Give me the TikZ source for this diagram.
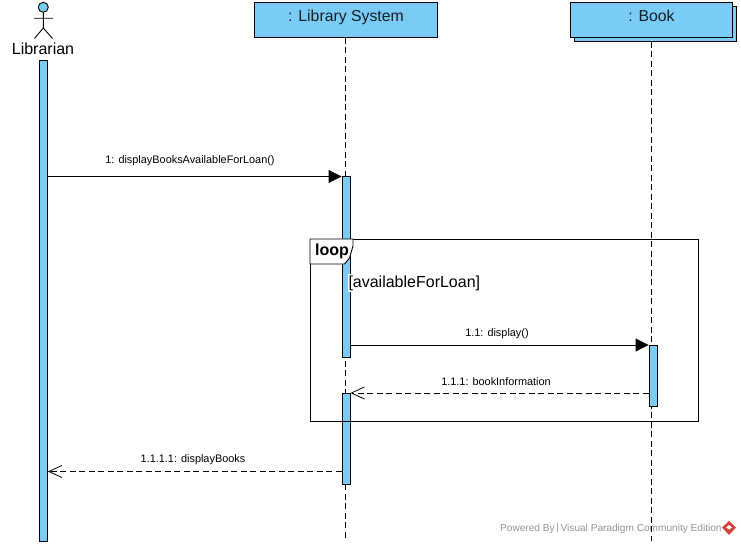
\documentclass[tikz,border=0pt]{standalone}
\usepackage{fontspec}
\setmainfont{Liberation Sans}
\usetikzlibrary{arrows.meta}
\definecolor{vpblue}{HTML}{7ACBF5}
\definecolor{wmgray}{HTML}{949494}
\definecolor{wmred}{HTML}{D2413A}
\tikzset{
  line/.style={draw=black,line width=0.9pt},
  headbox/.style={line,fill=vpblue,minimum height=35pt,inner sep=0pt,text height=10pt,text depth=5.6pt,font=\fontsize{15.8}{18}\selectfont,text=black!85!vpblue},
  actbar/.style={line,fill=vpblue,minimum width=8pt,inner sep=0pt,anchor=north},
  lifeline/.style={line,dash pattern=on 6pt off 3.5pt},
  syncmsg/.style={line,-{Triangle[length=13pt,width=13pt,fill=black]}},
  retmsg/.style={line,dash pattern=on 6pt off 3.5pt,-{Straight Barb[length=13pt,width=12pt,line width=0.8pt]}},
  msglabel/.style={font=\fontsize{10.9}{12}\selectfont,inner sep=0pt},
  bigtext/.style={font=\fontsize{16}{18}\selectfont,inner sep=0pt}
}
\begin{document}
\begin{tikzpicture}[x=1pt,y=-1pt]
\useasboundingbox[fill=white] (0,0) rectangle (741,545);

% watermark (lies under the lifeline)
\node[anchor=west,inner sep=0pt,text=wmgray,font=\fontsize{10.1}{12}\selectfont] (wm) at (500,528.5) {Powered By\raisebox{0.3pt}{\,\textbar\,}Visual Paradigm Community Edition};
\fill[wmred] (729,521) -- (736,527.5) -- (729,535) -- (722,527.5) -- cycle;
\fill[white] (729,525) -- (732,527.5) -- (729,529.5) -- (726,527.5) -- cycle;

% actor
\coordinate (hip) at (43.3,28);
\coordinate (neck) at (43.3,12.3);
\coordinate (footL) at (34.5,38.5);
\coordinate (footR) at (52.5,38.5);
\coordinate (armL) at (34,18.3);
\coordinate (armR) at (53,18.3);
\node[line,circle,fill=vpblue,minimum size=10pt,inner sep=0pt] (head) at (43.3,7.3) {};
\draw[line] (head) -- (hip) (armL) -- (armR) (footL) -- (hip) -- (footR);
\node[bigtext] (librarian) at (43,48.5) {Librarian};

% heads
\node[headbox,minimum width=183pt] (sys) at (346,19.8) {: Library System};
\node[line,fill=vpblue,minimum width=162.5pt,minimum height=35pt,inner sep=0pt] (bookback) at (655.5,23.8) {};
\node[headbox,minimum width=162.5pt] (book) at (651.5,19.8) {: Book};

% lifelines
\coordinate (sysend) at (345.5,541);
\coordinate (bookend) at (651,541);
\draw[lifeline] (sys.south -| sysend) -- (sysend);
\draw[lifeline] (bookback.south -| bookend) -- (bookend);

% activations
\node[actbar,minimum height=480pt] (libbar) at (43.5,60.5) {};
\node[actbar,minimum height=180.5pt] (sysbarA) at (346,176.5) {};
\node[actbar,minimum height=91pt] (sysbarB) at (346,393) {};
\node[actbar,minimum height=61pt] (bookbar) at (653,345) {};

% loop frame
\node[line,minimum width=388pt,minimum height=182pt,inner sep=0pt,anchor=north west] (frame) at (310,239) {};
\draw[line,fill=white] (frame.north west) -- (353,239) -- (353,246) -- (349.5,258) -- (344.5,264) -- (310,264) -- cycle;
\node[font=\bfseries\fontsize{16}{18}\selectfont,inner sep=0pt] (looplabel) at (332,251.5) {loop};
\node[bigtext,anchor=west,fill=white,inner xsep=1pt,inner ysep=2pt] (guard) at (347.3,283) {[availableForLoan]};

% messages
\draw[syncmsg] (libbar.east |- sysbarA.north) -- (sysbarA.north west);
\node[msglabel] (m1) at (190,161) {1: displayBooksAvailableForLoan()};

\draw[syncmsg] (sysbarA.east |- bookbar.north) -- (bookbar.north west);
\node[msglabel] (m2) at (497,334) {1.1: display()};

\draw[retmsg] (bookbar.west |- sysbarB.north) -- (sysbarB.north east);
\node[msglabel] (m3) at (496,381.5) {1.1.1: bookInformation};

\coordinate (retY) at (0,471.5);
\draw[retmsg] (sysbarB.west |- retY) -- (libbar.east |- retY);
\node[msglabel] (m4) at (193,460) {1.1.1.1: displayBooks};
\end{tikzpicture}
\end{document}
